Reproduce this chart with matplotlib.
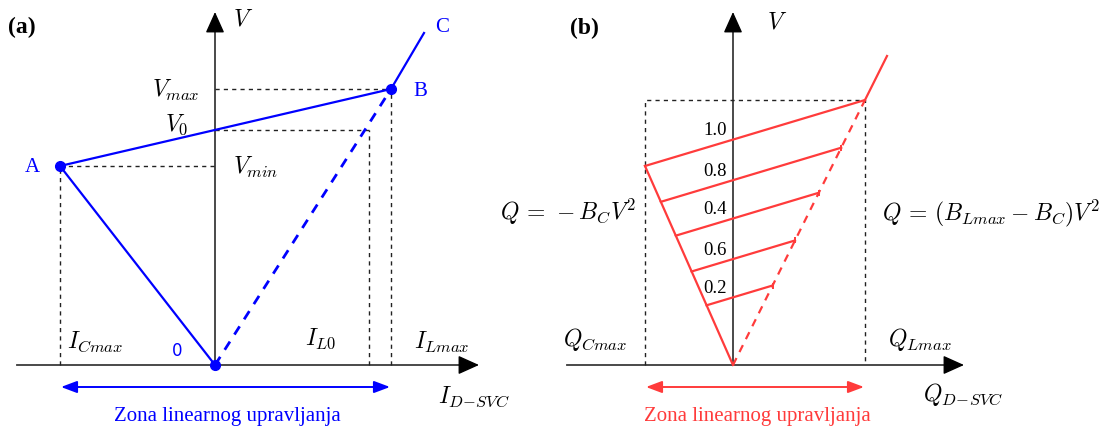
import numpy as np
import matplotlib
matplotlib.use("Agg")
import matplotlib.pyplot as plt

### setup ###
plt.rcParams["mathtext.fontset"] = "cm"
plt.rcParams["font.family"] = ["Liberation Serif", "DejaVu Serif"]

BLUE = "#0000ff"
RED = "#ff3b3b"
AXC = "#3a3a3a"

### data (a): static characteristic, units ~ 100 px ###
point_0 = (0.0, 0.0)
point_A = (-1.55, 1.99)   # I_Cmax, V_min
point_B = (1.76, 2.76)    # I_Lmax, V_max
point_C = (2.09, 3.32)
i_l0 = 1.54
axis_a_x = (-1.98, 2.64)
axis_y_top = 3.53
zone_a = (-1.54, 1.75)

### data (b): reactive power, Q = -B_C V^2 ... ###
q_cmax = -0.88
q_lmax = 1.32
q_top = 2.65
left_end = (-0.88, 1.99)
right_end = (1.32, 2.65)
ext_end = (1.54, 3.09)
level_frac = [1.0, 0.82, 0.65, 0.47, 0.30]
level_labels = ["1.0", "0.8", "0.4", "0.6", "0.2"]
axis_b_x = (-1.66, 2.31)
zone_b = (-0.87, 1.31)

W, H = 1105, 427
fig = plt.figure(figsize=(W / 100, H / 100), dpi=100)

ax_a = fig.add_axes([0, 0, 540 / W, 1])
ax_a.set_xlim(-2.15, 3.25)
ax_a.set_ylim(-0.61, 3.66)
ax_b = fig.add_axes([540 / W, 0, 565 / W, 1])
ax_b.set_xlim(-1.93, 3.72)
ax_b.set_ylim(-0.61, 3.66)
for ax in (ax_a, ax_b):
    ax.axis("off")


def draw_axes(ax, xr):
    ax.plot([xr[0], xr[1] - 0.1], [0, 0], color=AXC, lw=1.3, zorder=1)
    ax.plot([0, 0], [0, axis_y_top - 0.1], color=AXC, lw=1.3, zorder=1)
    head = dict(arrowstyle="-|>,head_length=1.0,head_width=0.45", color="k",
                lw=1.0, shrinkA=0, shrinkB=0, mutation_scale=13)
    ax.annotate("", xy=(xr[1], 0), xytext=(xr[1] - 0.12, 0), arrowprops=head)
    ax.annotate("", xy=(0, axis_y_top), xytext=(0, axis_y_top - 0.12), arrowprops=head)


def dash(ax, xs, ys):
    ax.plot(xs, ys, color="#222222", lw=1.0, ls=(0, (3, 3)), zorder=1)


def zone(ax, xr, col):
    ax.annotate("", xy=(xr[1], -0.22), xytext=(xr[0], -0.22),
                arrowprops=dict(arrowstyle="<|-|>,head_length=0.8,head_width=0.3",
                                color=col, lw=1.4, shrinkA=0, shrinkB=0,
                                mutation_scale=12))
    ax.text(sum(xr) / 2 + 0.02, -0.51, "Zona linearnog upravljanja", color=col,
            fontsize=15, ha="center", va="center")


### panel (a) ###
ax = ax_a
draw_axes(ax, axis_a_x)
# V0 where A-B crosses the V axis
v0 = point_A[1] + (point_B[1] - point_A[1]) * (0 - point_A[0]) / (point_B[0] - point_A[0])

dash(ax, [0, point_B[0]], [point_B[1], point_B[1]])
dash(ax, [0, i_l0], [v0, v0])
dash(ax, [point_A[0], 0], [point_A[1], point_A[1]])
dash(ax, [point_A[0], point_A[0]], [0, point_A[1]])
dash(ax, [i_l0, i_l0], [0, v0])
dash(ax, [point_B[0], point_B[0]], [0, point_B[1]])

ax.plot([point_0[0], point_A[0], point_B[0], point_C[0]],
        [point_0[1], point_A[1], point_B[1], point_C[1]], color=BLUE, lw=1.6, zorder=3)
ax.plot([point_0[0], point_B[0]], [point_0[1], point_B[1]], color=BLUE, lw=2.0,
        ls=(0, (3.5, 3)), zorder=3)
ax.plot([point_0[0], point_A[0], point_B[0]], [point_0[1], point_A[1], point_B[1]],
        ls="none", marker="o", ms=7, color=BLUE, zorder=4)
zone(ax, zone_a, BLUE)

fs = 17
ax.text(-2.07, 3.39, "(a)", fontsize=17, fontweight="bold", va="center")
ax.text(0.18, 3.46, "$V$", fontsize=fs, va="center")
ax.text(-0.15, 2.76, "$V_{max}$", fontsize=fs, ha="right", va="center")
ax.text(-0.27, 2.41, "$V_0$", fontsize=fs, ha="right", va="center")
ax.text(0.18, 1.99, "$V_{min}$", fontsize=fs, va="center")
ax.text(-1.75, 1.98, "A", fontsize=15, color=BLUE, ha="right", va="center")
ax.text(1.98, 2.75, "B", fontsize=15, color=BLUE, va="center")
ax.text(2.20, 3.39, "C", fontsize=15, color=BLUE, va="center")
ax.text(-1.48, 0.24, "$I_{Cmax}$", fontsize=fs, va="center")
ax.text(0.90, 0.27, "$I_{L0}$", fontsize=fs, va="center")
ax.text(1.99, 0.24, "$I_{Lmax}$", fontsize=fs, va="center")
ax.text(-0.38, 0.15, "0", fontsize=12, color=BLUE, ha="center", va="center",
        family="DejaVu Sans")
ax.text(2.23, -0.31, r"$I_{D\!-\!SVC}$", fontsize=fs, va="center")

### panel (b) ###
ax = ax_b
draw_axes(ax, axis_b_x)
dash(ax, [q_cmax, q_cmax, q_lmax, q_lmax], [0, q_top, q_top, 0])

ax.plot([0, left_end[0]], [0, left_end[1]], color=RED, lw=1.6, zorder=3)
ax.plot([right_end[0], ext_end[0]], [right_end[1], ext_end[1]], color=RED, lw=1.6, zorder=3)
ax.plot([0, right_end[0]], [0, right_end[1]], color=RED, lw=1.6, ls=(0, (3.5, 3)), zorder=3)

slope = (right_end[1] - left_end[1]) / (right_end[0] - left_end[0])
for t, lab in zip(level_frac, level_labels):
    x0, y0 = t * left_end[0], t * left_end[1]
    x1, y1 = t * right_end[0], t * right_end[1]
    ax.plot([x0, x1], [y0, y1], color=RED, lw=1.6, zorder=3)
    if t < 1.0:
        ax.plot([x1], [y1], ls="none", marker="|", ms=5, mew=1.4, color=RED, zorder=3)
    yc = y0 + slope * (0 - x0)
    ax.text(-0.06, yc + 0.10, lab, fontsize=13.5, ha="right", va="center")

zone(ax, zone_b, RED)

ax.text(-1.63, 3.38, "(b)", fontsize=17, fontweight="bold", va="center")
ax.text(0.34, 3.43, "$V$", fontsize=fs, va="center")
ax.text(-2.33, 1.54, r"$Q\,=\,-B_CV^2$", fontsize=fs, va="center")
ax.text(1.49, 1.53, r"$Q\,=\,(B_{Lmax}-B_C)V^2$", fontsize=fs, va="center")
ax.text(-1.70, 0.26, "$Q_{Cmax}$", fontsize=fs, va="center")
ax.text(1.55, 0.26, "$Q_{Lmax}$", fontsize=fs, va="center")
ax.text(1.90, -0.29, r"$Q_{D\!-\!SVC}$", fontsize=fs, va="center")

fig.savefig("out.png", dpi=100)
